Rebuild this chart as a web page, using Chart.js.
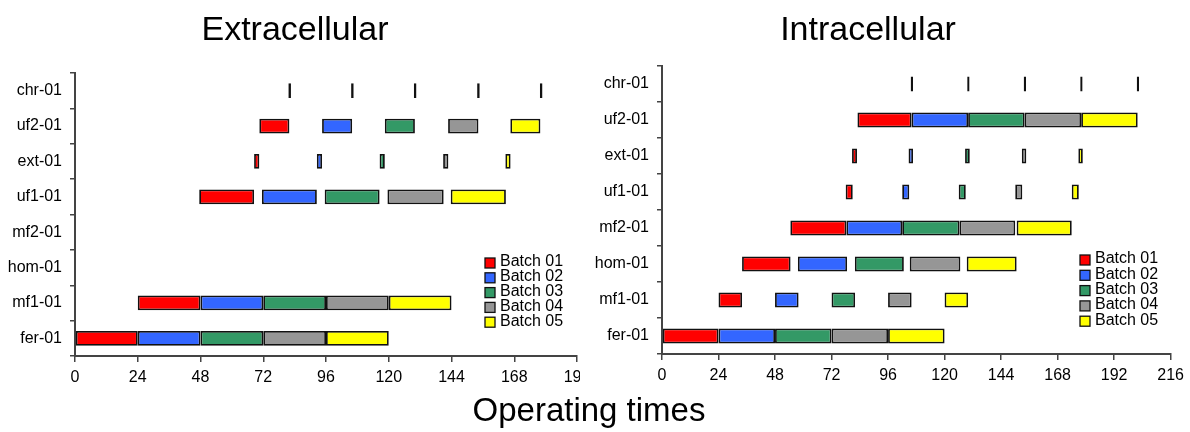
<!DOCTYPE html>
<html>
<head>
<meta charset="utf-8">
<script src="https://cdn.jsdelivr.net/npm/chart.js@4"></script>
<style>
  body { margin: 0; background: #fff; }
  #page { position: relative; width: 1190px; height: 432px; overflow: hidden; font-family: "Liberation Sans", Arial, sans-serif; }
  .title { position: absolute; text-align: center; color: #000; white-space: nowrap; }
</style>
</head>
<body>
<div id="page">
  <div style="position:absolute;left:0;top:0;width:580px;height:432px;overflow:hidden">
    <canvas id="extChart" width="600" height="432"></canvas>
  </div>
  <div style="position:absolute;left:590px;top:0;width:600px;height:432px">
    <canvas id="intChart" width="600" height="432"></canvas>
  </div>
  <div class="title" style="left:0;width:590px;top:10.5px;font-size:34px;line-height:34px">Extracellular</div>
  <div class="title" style="left:590px;width:556px;top:10.5px;font-size:34px;line-height:34px">Intracellular</div>
  <div class="title" style="left:0;width:1178px;top:393.5px;font-size:33px;line-height:32px">Operating times</div>
</div>
<script>
const units = ['chr-01', 'uf2-01', 'ext-01', 'uf1-01', 'mf2-01', 'hom-01', 'mf1-01', 'fer-01'];
const batchLabels = ['Batch 01', 'Batch 02', 'Batch 03', 'Batch 04', 'Batch 05'];
const batchColors = ['#ff0000', '#3366ff', '#339966', '#969696', '#ffff00'];

// Extracellular, [start, end] in hours, one entry per unit
const extBatch01 = [[81.6, 82.6], [70.5, 82], [68.5, 70.5], [47.5, 68.5], null, null, [24, 48], [0, 24]];
const extBatch02 = [[105.6, 106.6], [94.5, 106], [92.5, 94.5], [71.5, 92.5], null, null, [48, 72], [24, 48]];
const extBatch03 = [[129.6, 130.6], [118.5, 130], [116.5, 118.5], [95.5, 116.5], null, null, [72, 96], [48, 72]];
const extBatch04 = [[153.8, 154.8], [142.7, 154.3], [140.8, 142.8], [119.5, 141], null, null, [96, 120], [72, 96]];
const extBatch05 = [[177.8, 178.8], [166.5, 178], [164.6, 166.6], [143.7, 164.8], null, null, [120, 144], [96, 120]];

// Intracellular
const intBatch01 = [[105.6, 106.6], [83, 106], [80.7, 82.8], [78, 81], [54.5, 78.3], [34, 54.6], [24, 34], [0, 24]];
const intBatch02 = [[129.6, 130.6], [106, 130], [104.7, 106.6], [102, 105], [78.3, 102], [57.7, 78.6], [48, 58], [24, 48]];
const intBatch03 = [[153.6, 154.6], [130, 154], [128.7, 130.7], [126, 129], [102, 126.3], [81.9, 102.7], [72, 82], [48, 72]];
const intBatch04 = [[177.6, 178.6], [154, 178], [152.8, 154.7], [150, 153], [126.3, 150], [105.2, 126.7], [96, 106], [72, 96]];
const intBatch05 = [[201.6, 202.6], [178, 202], [176.8, 178.7], [174, 177], [150.6, 174], [129.4, 150.6], [120, 130], [96, 120]];

const extMax = 192;
const intMax = 216;
const tickStep = 24;

const FONT = '"Liberation Sans", Arial, sans-serif';

// legend drawn as small boxes inside the plot, like the original
const batchLegend = {
    id: 'batchLegend',
    afterDraw(chart, args, opts) {
        const ctx = chart.ctx;
        ctx.save();
        ctx.font = '16px ' + FONT;
        ctx.textBaseline = 'middle';
        chart.data.datasets.forEach((ds, i) => {
            const y = opts.y + i * opts.step;
            ctx.fillStyle = ds.backgroundColor;
            ctx.fillRect(opts.x, y - 5, 10, 10);
            ctx.strokeStyle = '#111';
            ctx.lineWidth = 1.3;
            ctx.strokeRect(opts.x, y - 5, 10, 10);
            ctx.fillStyle = '#000';
            ctx.fillText(ds.label, opts.x + 15, y - 1);
        });
        ctx.restore();
    }
};

function makeDatasets(batches) {
    return batches.map((data, i) => ({
        label: batchLabels[i],
        data: data,
        backgroundColor: batchColors[i],
        borderColor: '#111',
        borderWidth: 1.8,
        borderSkipped: false,
        grouped: false,
        barPercentage: 0.42,
        categoryPercentage: 1.0
    }));
}

function makeConfig(batches, xMax, pad, yWidth, xHeight, legendPos) {
    return {
        type: 'bar',
        data: {
            labels: units,
            datasets: makeDatasets(batches)
        },
        options: {
            indexAxis: 'y',
            responsive: false,
            animation: false,
            layout: { padding: pad },
            plugins: {
                legend: { display: false },
                tooltip: { enabled: false },
                batchLegend: legendPos
            },
            scales: {
                y: {
                    type: 'category',
                    afterFit: function(s) { s.width = yWidth; },
                    grid: { drawOnChartArea: false, tickLength: 5, color: '#444', lineWidth: 1.5 },
                    border: { color: '#444', width: 2 },
                    ticks: { color: '#000', padding: 8, font: { size: 16, family: FONT } }
                },
                x: {
                    type: 'linear',
                    min: 0,
                    max: xMax,
                    afterFit: function(s) { s.height = xHeight; },
                    grid: { drawOnChartArea: false, tickLength: 6, color: '#444', lineWidth: 1.5 },
                    border: { color: '#444', width: 2 },
                    ticks: { stepSize: tickStep, color: '#000', padding: 6, font: { size: 16, family: FONT } }
                }
            }
        },
        plugins: [batchLegend]
    };
}

let extChart = new Chart(
    document.getElementById('extChart'),
    makeConfig([extBatch01, extBatch02, extBatch03, extBatch04, extBatch05], extMax,
        { top: 73, right: 23, left: 0, bottom: 0 }, 75, 76, { x: 485, y: 263, step: 14.8 })
);

let intChart = new Chart(
    document.getElementById('intChart'),
    makeConfig([intBatch01, intBatch02, intBatch03, intBatch04, intBatch05], intMax,
        { top: 66, right: 16, left: 0, bottom: 0 }, 72, 78, { x: 490, y: 260, step: 15.3 })
);
</script>
</body>
</html>
